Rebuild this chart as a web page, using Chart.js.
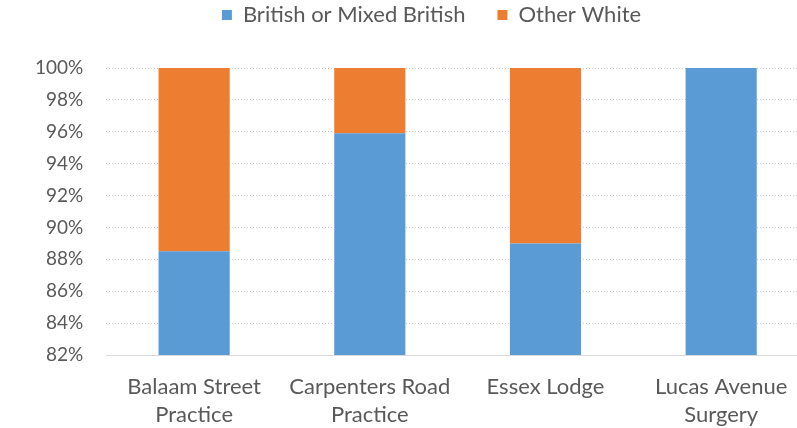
<!DOCTYPE html>
<html><head><meta charset="utf-8">
<script src="https://cdn.jsdelivr.net/npm/chart.js@4"></script>
<style>
html,body{margin:0;padding:0;background:#fff;overflow:hidden;width:797px;height:428px;}
#wrap{width:862px;height:428px;position:relative;}
</style></head><body>
<div id="wrap"><canvas id="c" width="862" height="428"></canvas></div>
<script>
const categories = [["Balaam Street","Practice"],["Carpenters Road","Practice"],["Essex Lodge"],["Lucas Avenue","Surgery"]];
const britishValues = [88.5, 95.9, 89.0, 100];
const otherWhiteValues = [11.5, 4.1, 11.0, 0];
const yMin = 82, yMax = 100, yStep = 2;

const FONT = "Lato";
const legendTweak = {
  id: 'legendTweak',
  beforeLayout(chart) {
    const lg = chart.legend;
    if (lg && !lg._gapPatched) {
      const orig = lg.fit;
      lg.fit = function() { orig.call(this); this.height += 32; };
      lg._gapPatched = true;
    }
  },
  afterLayout(chart) {
    const lg = chart.legend;
    if (lg) { lg.left += 21; lg.right += 21; }
  }
};
new Chart(document.getElementById('c'), {
  type: 'bar',
  data: {
    labels: categories,
    datasets: [
      {label: 'British or Mixed British', data: britishValues, backgroundColor: '#5B9BD5', barPercentage: 0.405, categoryPercentage: 1},
      {label: 'Other White', data: otherWhiteValues, backgroundColor: '#ED7D31', barPercentage: 0.405, categoryPercentage: 1}
    ]
  },
  plugins: [legendTweak],
  options: {
    responsive: false,
    animation: false,
    layout: {autoPadding: false, padding: {top: -28, right: 53, left: 12, bottom: -11}},
    plugins: {
      tooltip: {enabled: false},
      legend: {
        position: 'top',
        labels: {boxWidth: 10, boxHeight: 10, padding: 32, color: '#595959', font: {family: FONT, size: 22}}
      }
    },
    scales: {
      x: {
        stacked: true,
        grid: {display: false},
        border: {color: '#D9D9D9'},
        ticks: {color: '#595959', padding: 10, maxRotation: 0, autoSkip: false, font: {family: FONT, size: 22, lineHeight: 28/22}}
      },
      y: {
        stacked: true,
        min: yMin, max: yMax,
        grid: {color: '#C8C8C8', drawTicks: false, lineWidth: 1},
        border: {display: false, dash: [1,2]},
        ticks: {stepSize: yStep, color: '#595959', padding: 23, font: {family: FONT, size: 19}, callback: v => v + '%'}
      }
    }
  }
});
</script></body></html>
